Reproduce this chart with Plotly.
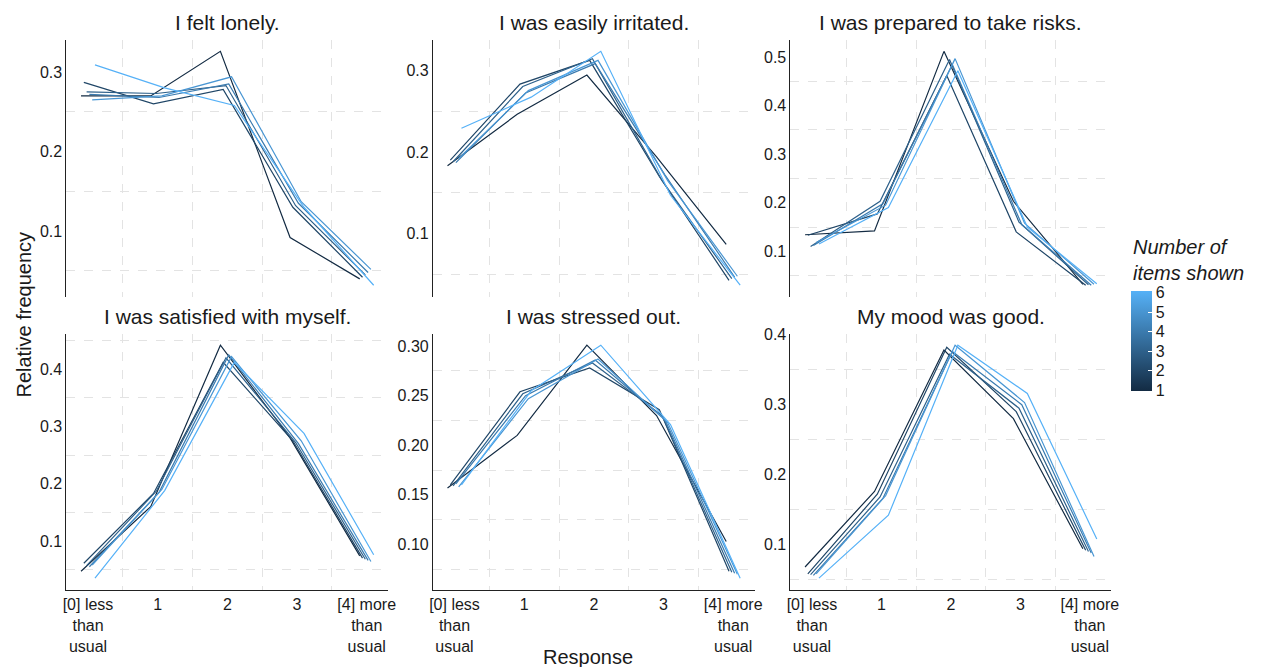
import plotly.graph_objects as go
from plotly.colors import sample_colorscale

W, H = 1263, 667

responses = [0, 1, 2, 3, 4]
response_labels = ["[0] less<br>than<br>usual", "1", "2", "3", "[4] more<br>than<br>usual"]
items_shown = [1, 2, 3, 4, 5, 6]

titles = ["I felt lonely.", "I was easily irritated.", "I was prepared to take risks.",
          "I was satisfied with myself.", "I was stressed out.", "My mood was good."]

# rows = number of items shown (1..6), columns = responses 0..4
lonely = [
    [0.270, 0.270, 0.326, 0.092, 0.040],
    [0.287, 0.260, 0.278, 0.130, 0.042],
    [0.275, 0.273, 0.283, 0.132, 0.045],
    [0.272, 0.268, 0.285, 0.135, 0.048],
    [0.265, 0.270, 0.294, 0.137, 0.052],
    [0.309, 0.280, 0.258, 0.130, 0.032],
]
irritated = [
    [0.183, 0.246, 0.294, 0.194, 0.087],
    [0.190, 0.283, 0.312, 0.170, 0.043],
    [0.188, 0.280, 0.314, 0.165, 0.045],
    [0.187, 0.272, 0.308, 0.172, 0.047],
    [0.192, 0.275, 0.312, 0.165, 0.048],
    [0.229, 0.267, 0.323, 0.147, 0.037],
]
risks = [
    [0.134, 0.142, 0.512, 0.203, 0.032],
    [0.133, 0.177, 0.462, 0.140, 0.030],
    [0.110, 0.203, 0.495, 0.160, 0.031],
    [0.112, 0.198, 0.485, 0.155, 0.030],
    [0.118, 0.195, 0.497, 0.158, 0.032],
    [0.115, 0.190, 0.472, 0.150, 0.033],
]
satisfied = [
    [0.047, 0.160, 0.442, 0.280, 0.074],
    [0.061, 0.183, 0.412, 0.275, 0.070],
    [0.057, 0.187, 0.420, 0.272, 0.068],
    [0.055, 0.185, 0.425, 0.270, 0.066],
    [0.058, 0.190, 0.422, 0.275, 0.064],
    [0.035, 0.188, 0.412, 0.288, 0.076],
]
stressed = [
    [0.157, 0.210, 0.301, 0.230, 0.103],
    [0.160, 0.254, 0.278, 0.236, 0.073],
    [0.159, 0.252, 0.283, 0.230, 0.072],
    [0.161, 0.250, 0.286, 0.226, 0.071],
    [0.158, 0.247, 0.287, 0.223, 0.070],
    [0.160, 0.255, 0.301, 0.221, 0.066],
]
mood = [
    [0.068, 0.176, 0.378, 0.280, 0.094],
    [0.058, 0.172, 0.382, 0.290, 0.092],
    [0.057, 0.168, 0.372, 0.295, 0.090],
    [0.056, 0.166, 0.376, 0.300, 0.088],
    [0.058, 0.170, 0.385, 0.303, 0.083],
    [0.052, 0.142, 0.385, 0.316, 0.108],
]
panels = [lonely, irritated, risks, satisfied, stressed, mood]
y_dticks = [0.1, 0.1, 0.1, 0.1, 0.05, 0.1]
y_formats = [".1f", ".1f", ".1f", ".1f", ".2f", ".1f"]

# layout geometry (pixels)
col_px = [(63, 388), (433, 758), (794, 1118)]
row_px = [(33, 293), (330, 589)]

FONT = "Liberation Sans, Arial, Helvetica, sans-serif"
TXT = "#1a1a1a"
GRID = "#e3e3e3"
scale = [[0, "#132B43"], [1, "#56B1F7"]]
colors = sample_colorscale(scale, [(k - 1) / 5 for k in items_shown])
dodge = 0.2

fig = go.Figure()
layout = {}
annotations = []

for p, data in enumerate(panels):
    r, c = divmod(p, 3)
    idx = p + 1
    xa = "x" if idx == 1 else f"x{idx}"
    ya = "y" if idx == 1 else f"y{idx}"
    for k, vals in zip(items_shown, data):
        off = (k - 3.5) * dodge / 5
        fig.add_trace(go.Scatter(
            x=[v + off for v in responses], y=vals, mode="lines",
            line=dict(color=colors[k - 1], width=1.2),
            xaxis=xa, yaxis=ya, showlegend=False, hoverinfo="skip"))
    allv = [v for row in data for v in row]
    lo, hi = min(allv), max(allv)
    pad = (hi - lo) * 0.05
    x0, x1 = col_px[c]
    y0, y1 = row_px[r]
    dt = y_dticks[p]
    layout[f"xaxis{idx}"] = dict(
        domain=[x0 / W, x1 / W], anchor=ya, range=[-0.31, 4.31],
        tickmode="array", tickvals=responses, ticktext=response_labels,
        showticklabels=(r == 1), showgrid=False, zeroline=False,
        showline=(r == 1), linecolor="#222", linewidth=1, ticks="",
        tickfont=dict(size=16, color=TXT, family=FONT),
        minor=dict(showgrid=True, tick0=0.5, dtick=1, gridcolor=GRID,
                   griddash="dash", gridwidth=1, ticks=""))
    layout[f"yaxis{idx}"] = dict(
        domain=[1 - y1 / H, 1 - y0 / H], anchor=xa, range=[lo - pad, hi + pad],
        tick0=0, dtick=dt, tickformat=y_formats[p], showgrid=False,
        zeroline=False, showline=True, linecolor="#222", linewidth=1, ticks="",
        tickfont=dict(size=16, color=TXT, family=FONT),
        minor=dict(showgrid=True, tick0=dt / 2, dtick=dt, gridcolor=GRID,
                   griddash="dash", gridwidth=1, ticks=""))
    annotations.append(dict(
        text=titles[p], x=(x0 + x1) / 2 / W, y=1 - (y0 - 17) / H,
        xref="paper", yref="paper", showarrow=False, xanchor="center",
        yanchor="middle", font=dict(size=21, color=TXT, family=FONT)))

annotations.append(dict(
    text="Relative frequency", x=20 / W, y=1 - 311 / H, xref="paper", yref="paper",
    showarrow=False, textangle=-90, xanchor="center", yanchor="middle",
    font=dict(size=20, color=TXT, family=FONT)))
annotations.append(dict(
    text="Response", x=590 / W, y=1 - 657 / H, xref="paper", yref="paper",
    showarrow=False, xanchor="center", yanchor="middle",
    font=dict(size=20, color=TXT, family=FONT)))
annotations.append(dict(
    text="<i>Number of<br>items shown</i>", x=1138 / W, y=1 - 256 / H,
    xref="paper", yref="paper", showarrow=False, xanchor="left", yanchor="middle",
    align="left", font=dict(size=20, color=TXT, family=FONT)))

# colorbar-only trace
fig.add_trace(go.Scatter(
    x=[None], y=[None], mode="markers", showlegend=False, hoverinfo="skip",
    marker=dict(color=[1], cmin=0.95, cmax=6.05, colorscale=scale, showscale=True,
                colorbar=dict(
                    x=1138 / W, xanchor="left", y=1 - 338 / H, yanchor="middle",
                    len=100, lenmode="pixels", thickness=21, thicknessmode="pixels",
                    outlinewidth=0, tickvals=items_shown, ticks="inside",
                    tickcolor="white", ticklen=4, tickwidth=1,
                    tickfont=dict(size=16, color=TXT, family=FONT),
                    xpad=0, ypad=0))))

fig.update_layout(
    width=W, height=H, autosize=False, margin=dict(l=0, r=0, t=0, b=0),
    paper_bgcolor="white", plot_bgcolor="white",
    font=dict(family=FONT, color=TXT), annotations=annotations, **layout)

fig.write_html("out.html", post_script="document.body.style.margin='0';")
